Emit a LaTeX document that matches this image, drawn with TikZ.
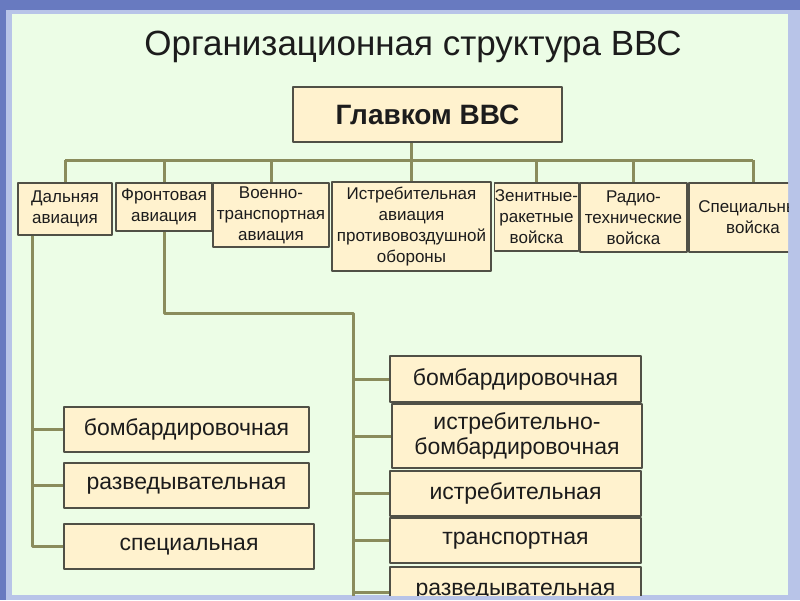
\documentclass[tikz,border=0pt]{standalone}
\usepackage{fontspec}
\setmainfont{Liberation Sans}
\definecolor{winbar}{RGB}{104,122,192}
\definecolor{winedge}{RGB}{184,196,232}
\definecolor{slidebg}{RGB}{236,253,230}
\definecolor{boxfill}{RGB}{255,242,206}
\definecolor{boxline}{RGB}{80,80,70}
\definecolor{treeline}{RGB}{138,140,92}
\definecolor{ink}{RGB}{28,28,28}
\begin{document}
\begin{tikzpicture}[x=1pt,y=-1pt,line cap=round,line join=round,
  unit/.style={draw=boxline,fill=boxfill,line width=1.1pt,inner sep=0pt,text=ink,align=center,
    font=\fontsize{17}{21}\selectfont},
  branch/.style={unit,font=\fontsize{23}{25}\selectfont},
  link/.style={draw=treeline,line width=3pt,line cap=butt}]
  \useasboundingbox (0,0) rectangle (800,600);
  % window frame
  \fill[winedge] (0,0) rectangle (800,600);
  \fill[winbar] (0,0) rectangle (800,10);
  \fill[winbar] (0,0) rectangle (6,600);
  \fill[slidebg] (12,14) rectangle (788,595);
  \begin{scope}
  \clip (12,14) rectangle (788,595);
  \node[text=ink,font=\fontsize{35}{37}\selectfont] (title) at (413,47) {Организационная структура ВВС};
  \node[unit,font=\bfseries\fontsize{28}{30}\selectfont,minimum width=269,minimum height=55] (glav) at (427.5,114.5) {Главком ВВС};
  % second level
  \node[unit,minimum width=94,minimum height=52] (dal) at (65,209) {Дальняя\\авиация};
  \node[unit,minimum width=96,minimum height=48] (front) at (164,207) {Фронтовая\\авиация};
  \node[unit,minimum width=116,minimum height=64] (vta) at (271,215) {Военно-\\транспортная\\авиация};
  \node[unit,minimum width=159,minimum height=89] (pvo) at (411.5,226.5) {Истребительная\\авиация\\противовоздушной\\обороны};
  \node[unit,minimum width=83,minimum height=68] (zrv) at (536.5,217) {Зенитные-\\ракетные\\войска};
  \node[unit,minimum width=107,minimum height=69] (rtv) at (633.5,217.5) {Радио-\\технические\\войска};
  \node[unit,minimum width=128,minimum height=69] (spv) at (753,217.5) {Специальные\\войска};
  % long-range branches
  \node[branch,minimum width=245,minimum height=45] (dal1) at (186.5,429.5) {бомбардировочная};
  \node[branch,minimum width=245,minimum height=45] (dal2) at (186.5,485.5) {разведывательная};
  \node[branch,minimum width=250,minimum height=45] (dal3) at (189,546.5) {специальная};
  % frontline branches
  \node[branch,minimum width=251,minimum height=46] (fr1) at (515.5,379) {бомбардировочная};
  \node[branch,minimum width=250,minimum height=64] (fr2) at (517,436) {истребительно-\\бомбардировочная};
  \node[branch,minimum width=251,minimum height=45] (fr3) at (515.5,493.5) {истребительная};
  \node[branch,minimum width=251,minimum height=45] (fr4) at (515.5,540.5) {транспортная};
  \node[branch,minimum width=251,minimum height=50] (fr5) at (515.5,592) {разведывательная};
  % connectors
  \coordinate (bus) at (0,160);
  \coordinate (fturn) at (353,313);
  \draw[link] (pvo.north |- glav.south) -- (pvo.north);
  \draw[link] (dal.north |- bus) -- (spv.north |- bus);
  \foreach \n in {dal,front,vta,zrv,rtv,spv} {\draw[link] (\n.north) -- (\n.north |- bus);}
  \draw[link] ([xshift=15]dal.south west) -- ([xshift=15]dal.south west |- dal3.west) -- (dal3.west);
  \foreach \n in {dal1,dal2} {\draw[link] ([xshift=15]dal.south west |- \n.west) -- (\n.west);}
  \draw[link] (front.south) |- (fturn) -- (fturn |- 0,600);
  \foreach \n in {fr1,fr2,fr3,fr4,fr5} {\draw[link] (fturn |- \n.west) -- (\n.west);}
  \end{scope}
\end{tikzpicture}
\end{document}
